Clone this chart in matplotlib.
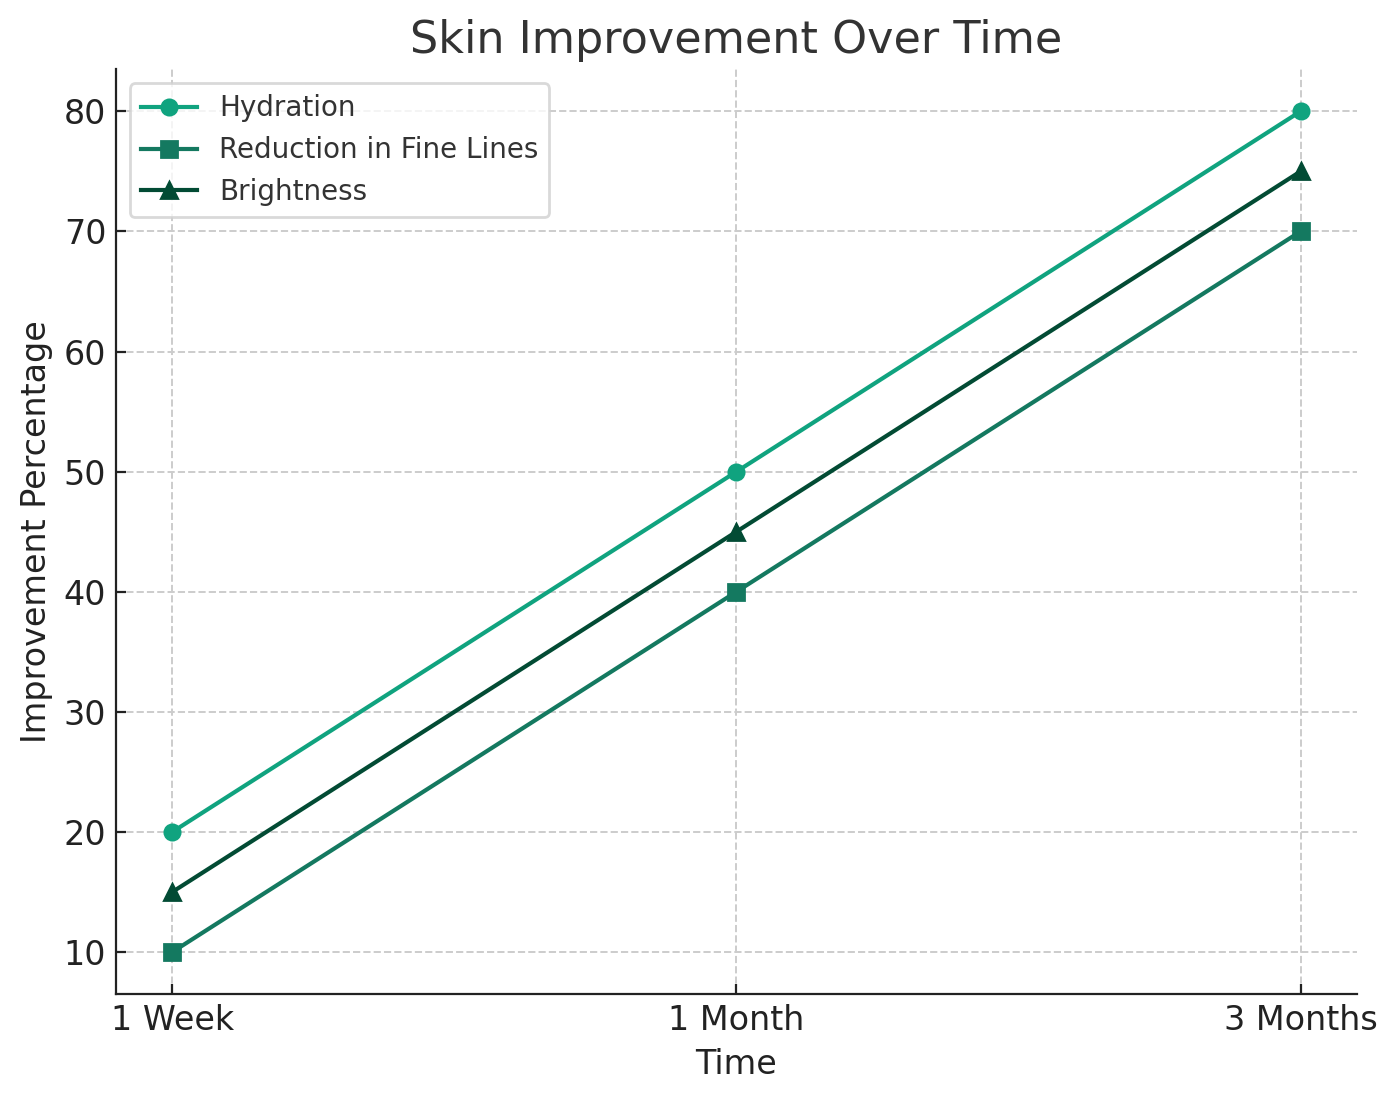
import matplotlib
matplotlib.use("Agg")
import matplotlib.pyplot as plt

# data
time_points = ["1 Week", "1 Month", "3 Months"]
hydration = [20, 50, 80]
fine_lines = [10, 40, 70]
brightness = [15, 45, 75]

plt.rcParams['font.family'] = ['DejaVu Sans']

fig = plt.figure(figsize=(6.98, 5.505), dpi=200)
ax = fig.add_axes([0.0831, 0.0972, 0.8889, 0.8398])

ax.plot(time_points, hydration, marker='o', color='#10a37f', lw=1.5, ms=5.5, label='Hydration')
ax.plot(time_points, fine_lines, marker='s', color='#147960', lw=1.5, ms=5.5, label='Reduction in Fine Lines')
ax.plot(time_points, brightness, marker='^', color='#024b34', lw=1.5, ms=5.5, label='Brightness')

ax.set_title('Skin Improvement Over Time', fontsize=16, color='#333333')
ax.set_xlabel('Time', fontsize=12, color='#222222')
ax.set_ylabel('Improvement Percentage', fontsize=12, color='#222222')
ax.tick_params(labelsize=12, colors='#222222', direction='in')
ax.grid(True, linestyle='--', color='#cccccc', lw=0.7)
ax.spines['top'].set_visible(False)
ax.spines['right'].set_visible(False)
for s in ['left', 'bottom']:
    ax.spines[s].set_color('#222222')
leg = ax.legend(loc='upper left', fontsize=10, labelcolor='#333333', edgecolor='#d0d0d0')

fig.savefig('out.png', dpi=200)
